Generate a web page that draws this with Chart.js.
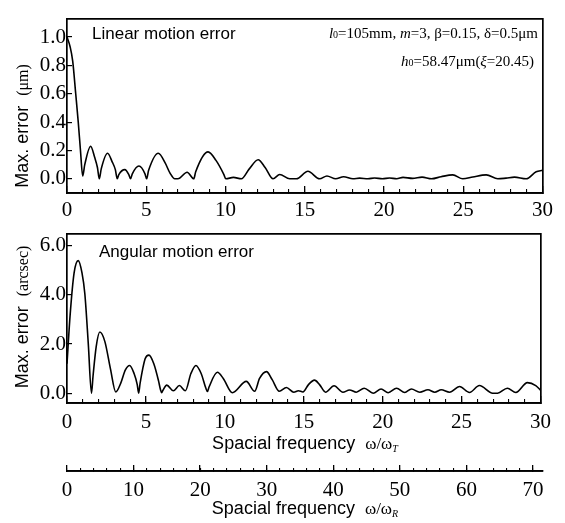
<!DOCTYPE html>
<html><head><meta charset="utf-8">
<script src="https://cdn.jsdelivr.net/npm/chart.js@4"></script>
<style>
body{margin:0;background:#fff;width:565px;height:523px;overflow:hidden;position:relative}
canvas{position:absolute;left:0}
</style></head><body>
<canvas id="c1" width="565" height="230" style="top:0px;width:565px;height:230px"></canvas>
<canvas id="c2" width="565" height="240" style="top:215px;width:565px;height:240px"></canvas>
<canvas id="c3" width="565" height="68" style="top:455px;width:565px;height:68px"></canvas>
<script>
// ---- data ----
const LIN_X = [0,0.2,0.36,0.55,0.71,0.85,0.99,1.12,1.49,1.75,1.92,2.04,2.16,2.56,2.85,3.05,3.17,3.27,3.65,3.9,4.01,4.12,4.54,4.92,5.02,5.15,5.76,6.2,6.5,6.8,7.0,7.58,8.0,8.12,8.9,9.4,9.9,10.02,10.5,11.0,11.5,12.06,12.5,13.0,13.42,14.05,14.47,15.2,15.94,16.4,16.95,17.45,18.04,18.46,18.99,19.4,19.9,20.35,20.8,21.2,21.8,22.4,23.0,23.6,24.34,24.97,25.6,26.45,27.18,27.7,28.23,28.97,29.6,30];
const LIN_Y = [1.0,0.93,0.83,0.6,0.4,0.2,0.02,0.1,0.23,0.15,0.08,0.0,0.07,0.18,0.12,0.065,0.0,0.03,0.065,0.03,0.0,0.035,0.09,0.035,0.0,0.06,0.18,0.11,0.04,0.0,0.0,0.046,0.0,0.05,0.19,0.13,0.03,0.0,0.01,0.0,0.07,0.135,0.08,0.0,0.03,0.0,0.0,0.053,0.0,0.02,0.0,0.015,0.0,0.005,0.0,0.006,0.0,0.006,0.0,0.01,0.003,0.012,0.0,0.015,0.028,0.0,0.013,0.028,0.0,0.005,0.012,0.0,0.05,0.06];

const ANG_X = [0,0.2,0.45,0.71,0.95,1.13,1.35,1.55,1.65,1.85,2.08,2.4,2.75,3.09,3.4,3.7,3.97,4.25,4.45,4.54,4.63,4.95,5.19,5.5,5.8,5.92,6.0,6.08,6.32,6.74,7.12,7.5,7.85,8.17,8.5,8.8,8.9,9.0,9.53,9.9,10.48,11.36,11.89,12.2,12.64,13.0,13.45,13.9,14.37,14.66,14.95,15.3,15.68,16.0,16.38,16.92,17.48,17.9,18.33,18.83,19.4,19.9,20.35,20.88,21.4,21.82,22.35,22.87,23.3,23.71,24.24,24.87,25.5,26.13,26.97,27.28,27.9,28.44,29.17,29.7,30];
const ANG_Y = [1.2,3.2,4.9,5.4,4.9,4.05,2.0,0.0,0.7,1.9,2.49,2.1,1.0,0.05,0.4,0.95,1.13,0.8,0.35,0.0,0.4,1.4,1.55,1.2,0.5,0.15,0.02,0.12,0.33,0.1,0.31,0.1,0.8,1.13,0.8,0.2,0.07,0.25,0.85,0.6,0.02,0.48,0.08,0.6,0.88,0.55,0.08,0.23,0.04,0.1,0.05,0.35,0.53,0.35,0.04,0.3,0.04,0.13,0.04,0.2,0.0,0.17,0.02,0.2,0.03,0.17,0.04,0.14,0.04,0.14,0.04,0.27,0.03,0.31,0.0,0.0,0.2,0.03,0.43,0.31,0.12];

const XT_TICKS = [0,5,10,15,20,25,30];
const XT_MINOR = [0,1,2,3,4,5,6,7,8,9,10,11,12,13,14,15,16,17,18,19,20,21,22,23,24,25,26,27,28,29,30];
const XR_TICKS = [0,10,20,30,40,50,60,70];
const XR_MINOR = [0,2,4,6,8,10,12,14,16,18,20,22,24,26,28,30,32,34,36,38,40,42,44,46,48,50,52,54,56,58,60,62,64,66,68,70];
const LIN_TICKS = [0,0.2,0.4,0.6,0.8,1.0];
const ANG_TICKS = [0,2,4,6];
const XT_MAX = 30, XR_MAX = 71.5;

// ---- helpers ----
const SERIF = 'Liberation Serif', SANS = 'Liberation Sans';
const fixTicks = vals => s => { s.ticks = vals.map(v => ({value: v})); };
const BLACK = '#000';

function frameAxis(pos, min, max) {
  const horiz = pos === 'top' || pos === 'bottom';
  return {
    type: 'linear', position: pos, min: min, max: max,
    grid: {display: true, drawOnChartArea: false, drawTicks: false},
    ticks: {display: false},
    border: {display: true, color: BLACK, width: 1.7},
    afterFit: s => { if (horiz) s.height = 0; else s.width = 0; }
  };
}
function xMajor(min, max, vals, padding, tl, h, fmt) {
  return {
    type: 'linear', position: 'bottom', min: min, max: max, weight: 2,
    afterBuildTicks: fixTicks(vals),
    ticks: {font: {family: SERIF, size: 21}, color: BLACK, padding: padding, maxRotation: 0, autoSkip: false,
            callback: fmt || (v => String(v))},
    grid: {drawOnChartArea: false, drawTicks: true, tickLength: tl, color: BLACK, lineWidth: 1.3},
    border: {display: true, color: BLACK, width: 1.7},
    afterFit: s => { s.height = h; }
  };
}
function xMinor(min, max, vals, tl) {
  return {
    type: 'linear', position: 'bottom', min: min, max: max, weight: 1,
    afterBuildTicks: fixTicks(vals),
    ticks: {display: false},
    grid: {drawOnChartArea: false, drawTicks: true, tickLength: tl, color: BLACK, lineWidth: 1.1},
    border: {display: true, color: BLACK, width: 1.7},
    afterFit: s => { s.height = 0; }
  };
}
function yLeft(min, max, vals) {
  return {
    type: 'linear', position: 'left', min: min, max: max,
    afterBuildTicks: fixTicks(vals),
    ticks: {font: {family: SERIF, size: 21}, color: BLACK, padding: 6, callback: v => v.toFixed(1)},
    grid: {drawOnChartArea: false, drawTicks: true, tickLength: -5, color: BLACK, lineWidth: 1.2},
    border: {display: true, color: BLACK, width: 1.7},
    afterFit: s => { s.width = 67; }
  };
}

function drawRich(ctx, segs, x, y, align) {
  let w = 0;
  segs.forEach(s => { ctx.font = s.f; s.w = ctx.measureText(s.t).width; w += s.w; });
  let cx = align === 'right' ? x - w : align === 'center' ? x - w / 2 : x;
  ctx.textBaseline = 'alphabetic'; ctx.textAlign = 'left'; ctx.fillStyle = BLACK;
  segs.forEach(s => { ctx.font = s.f; ctx.fillText(s.t, cx, y + (s.dy || 0)); cx += s.w; });
}
function textPlugin(items) {
  return {id: 'txt', afterDraw(chart) {
    const ctx = chart.ctx;
    items.forEach(it => {
      ctx.save();
      if (it.rot) { ctx.translate(it.x, it.y); ctx.rotate(-Math.PI / 2); drawRich(ctx, it.segs, 0, 0, it.align); }
      else drawRich(ctx, it.segs, it.x, it.y, it.align);
      ctx.restore();
    });
  }};
}
const sans = sz => sz + 'px ' + SANS;
const serif = sz => sz + 'px ' + SERIF;
const ital = sz => 'italic ' + sz + 'px ' + SERIF;

function lineDs(xs, ys) {
  return {data: xs.map((x, i) => ({x: x, y: ys[i]})), borderColor: BLACK, borderWidth: 1.6,
          pointRadius: 0, fill: false, cubicInterpolationMode: 'monotone'};
}
const baseOpts = {responsive: false, animation: false, events: [],
  plugins: {legend: {display: false}, tooltip: {enabled: false}}};

// ---- top panel: linear motion error ----
new Chart(document.getElementById('c1'), {
  type: 'line',
  data: {datasets: [lineDs(LIN_X, LIN_Y)]},
  options: Object.assign({}, baseOpts, {
    layout: {padding: {left: 0, right: 22, top: 8, bottom: 0}},
    scales: {
      x: xMajor(0, XT_MAX, XT_TICKS, 12, -7, 37),
      xm: xMinor(0, XT_MAX, XT_MINOR, -4),
      xt: frameAxis('top', 0, XT_MAX),
      y: yLeft(-0.1, 1.13, LIN_TICKS),
      yr: frameAxis('right', -0.1, 1.13)
    }
  }),
  plugins: [textPlugin([
    {x: 92, y: 39, segs: [{t: 'Linear motion error', f: sans(17)}]},
    {x: 538, y: 38, align: 'right', segs: [
      {t: 'l', f: ital(15)}, {t: '0', f: serif(10)}, {t: '=105mm, ', f: serif(15)},
      {t: 'm', f: ital(15)}, {t: '=3, \u03B2=0.15, \u03B4=0.5\u03BCm', f: serif(15)}]},
    {x: 534, y: 66, align: 'right', segs: [
      {t: 'h', f: ital(15)}, {t: '0', f: serif(10)}, {t: '=58.47\u03BCm(', f: serif(15)},
      {t: '\u03BE', f: ital(15)}, {t: '=20.45)', f: serif(15)}]},
    {x: 28, y: 126, rot: true, align: 'center', segs: [
      {t: 'Max. error  ', f: sans(18)}, {t: '(\u03BCm)', f: serif(16)}]}
  ])]
});

// ---- bottom panel: angular motion error ----
new Chart(document.getElementById('c2'), {
  type: 'line',
  data: {datasets: [lineDs(ANG_X, ANG_Y)]},
  options: Object.assign({}, baseOpts, {
    layout: {padding: {left: 0, right: 22, top: 8, bottom: 0}},
    scales: {
      x: xMajor(0, XT_MAX, XT_TICKS, 14, -7, 52),
      xm: xMinor(0, XT_MAX, XT_MINOR, -4),
      xt: frameAxis('top', 0, XT_MAX),
      y: yLeft(-0.4, 6.5, ANG_TICKS),
      yr: frameAxis('right', -0.4, 6.5)
    }
  }),
  plugins: [textPlugin([
    {x: 99, y: 42, segs: [{t: 'Angular motion error', f: sans(17)}]},
    {x: 28, y: 102, rot: true, align: 'center', segs: [
      {t: 'Max. error  ', f: sans(18)}, {t: '(arcsec)', f: serif(16)}]},
    {x: 305, y: 234, align: 'center', segs: [
      {t: 'Spacial frequency  ', f: sans(18)}, {t: '\u03C9/\u03C9', f: serif(17)}, {t: 'T', f: ital(10), dy: 3}]}
  ])]
});

// ---- secondary axis: omega / omega_R ----
new Chart(document.getElementById('c3'), {
  type: 'line',
  data: {datasets: []},
  options: Object.assign({}, baseOpts, {
    layout: {padding: {left: 67, right: 22, top: 11, bottom: 0}},
    scales: {
      x: xMajor(0, XR_MAX, XR_TICKS, 13, -6, 52),
      xm: xMinor(0, XR_MAX, XR_MINOR, -3),
      y: {display: false, min: 0, max: 1}
    }
  }),
  plugins: [textPlugin([
    {x: 305, y: 59, align: 'center', segs: [
      {t: 'Spacial frequency  ', f: sans(18)}, {t: '\u03C9/\u03C9', f: serif(17)}, {t: 'R', f: ital(10), dy: 3}]}
  ])]
});
</script>
</body></html>
